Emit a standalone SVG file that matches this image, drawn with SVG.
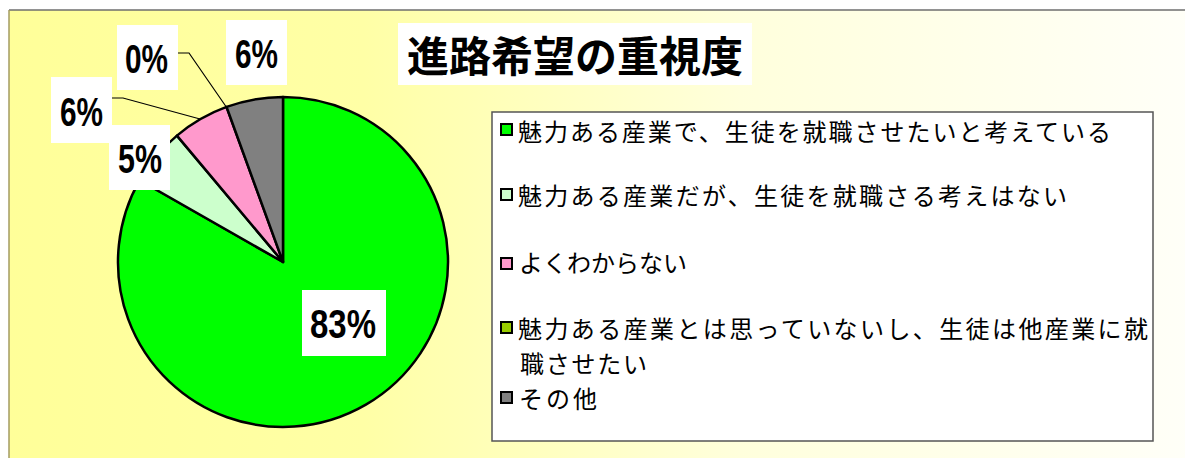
<svg xmlns="http://www.w3.org/2000/svg" width="1185" height="458" viewBox="0 0 1185 458">
  <defs>
    <linearGradient id="bg" x1="0" y1="0" x2="1" y2="0">
      <stop offset="0" stop-color="#FFFF99"/>
      <stop offset="0.3" stop-color="#FFFFA6"/>
      <stop offset="0.62" stop-color="#FFFFDC"/>
      <stop offset="1" stop-color="#FFFFF8"/>
    </linearGradient>
    <style>
      .slice { stroke: #000; stroke-width: 2.5; stroke-linejoin: round; }
      .lbox { fill: #fff; }
      .pct { font-family: "Liberation Sans", Arial, sans-serif; font-weight: bold; font-size: 40px; fill: #000; text-anchor: start; }
      .title { font-family: "Noto Sans CJK JP", "Noto Sans CJK SC", sans-serif; font-weight: bold; font-size: 42px; fill: #000; }
      .leg { font-family: "Noto Sans CJK JP", "Noto Sans CJK SC", sans-serif; font-size: 24px; fill: #000; }
      .key { stroke: #000; stroke-width: 2; }
      .leader { fill: none; stroke: #000; stroke-width: 1.2; }
    </style>
  </defs>

  <rect x="0" y="0" width="1185" height="458" fill="#fff"/>
  <g id="chart-area">
    <rect x="9" y="10" width="1180" height="452" fill="url(#bg)"/>
    <line x1="9" y1="10" x2="1185" y2="10" stroke="#6e6e6e" stroke-width="1.5"/>
    <line x1="9" y1="10" x2="9" y2="458" stroke="#a39b62" stroke-width="1.5"/>
  </g>

  <g id="pie">
    <path id="slice-green" class="slice" fill="#00FF00" d="M283,262 L283,97 A165,165 0 1 1 139.68,180.24 Z"/>
    <path id="slice-lightgreen" class="slice" fill="#CCFFCC" d="M283,262 L139.68,180.24 A165,165 0 0 1 176.94,135.61 Z"/>
    <path id="slice-pink" class="slice" fill="#FF99CC" d="M283,262 L176.94,135.61 A165,165 0 0 1 226.57,106.95 Z"/>
    <path id="slice-gray" class="slice" fill="#808080" d="M283,262 L226.57,106.95 A165,165 0 0 1 283,97 Z"/>
  </g>

  <g id="connectors">
    <polyline class="leader" points="178,53 189,53 227,108"/>
    <polyline class="leader" points="112,98 123,98 200,119"/>
  </g>

  <g id="label-83">
    <rect class="lbox" x="302" y="290" width="84" height="66"/>
    <text class="pct" x="310" y="338" textLength="66" lengthAdjust="spacingAndGlyphs">83%</text>
  </g>
  <g id="label-5">
    <rect class="lbox" x="109" y="125" width="61" height="65"/>
    <text class="pct" x="118" y="173" textLength="44" lengthAdjust="spacingAndGlyphs">5%</text>
  </g>
  <g id="label-6-pink">
    <rect class="lbox" x="51" y="77" width="61" height="66"/>
    <text class="pct" x="60" y="126" textLength="43" lengthAdjust="spacingAndGlyphs">6%</text>
  </g>
  <g id="label-0">
    <rect class="lbox" x="117" y="25" width="61" height="65"/>
    <text class="pct" x="125" y="73" textLength="43" lengthAdjust="spacingAndGlyphs">0%</text>
  </g>
  <g id="label-6-gray">
    <rect class="lbox" x="226" y="20" width="61" height="65"/>
    <text class="pct" x="235" y="68" textLength="43" lengthAdjust="spacingAndGlyphs">6%</text>
  </g>

  <g id="title">
    <rect class="lbox" x="398" y="23" width="354" height="62"/>
    <text class="title" x="407" y="72" textLength="336" lengthAdjust="spacingAndGlyphs">進路希望の重視度</text>
  </g>

  <g id="legend">
    <rect x="492" y="112" width="661" height="329" fill="#fff" stroke="#555" stroke-width="1.5"/>
    <g id="legend-1">
      <rect class="key" x="501" y="124" width="11" height="11" fill="#00FF00"/>
      <text class="leg" x="518" y="141" textLength="593" lengthAdjust="spacing">魅力ある産業で、生徒を就職させたいと考えている</text>
    </g>
    <g id="legend-2">
      <rect class="key" x="501" y="189" width="11" height="11" fill="#CCFFCC"/>
      <text class="leg" x="518" y="205" textLength="549" lengthAdjust="spacing">魅力ある産業だが、生徒を就職さる考えはない</text>
    </g>
    <g id="legend-3">
      <rect class="key" x="501" y="258" width="11" height="11" fill="#FF99CC"/>
      <text class="leg" x="519" y="272" textLength="168" lengthAdjust="spacing">よくわからない</text>
    </g>
    <g id="legend-4">
      <rect class="key" x="501" y="322" width="11" height="11" fill="#99CC00"/>
      <text class="leg" x="518" y="338" textLength="630" lengthAdjust="spacing">魅力ある産業とは思っていないし、生徒は他産業に就</text>
      <text class="leg" x="520" y="373" textLength="127" lengthAdjust="spacing">職させたい</text>
    </g>
    <g id="legend-5">
      <rect class="key" x="501" y="392" width="11" height="11" fill="#808080"/>
      <text class="leg" x="519" y="408" textLength="78" lengthAdjust="spacing">その他</text>
    </g>
  </g>
</svg>
